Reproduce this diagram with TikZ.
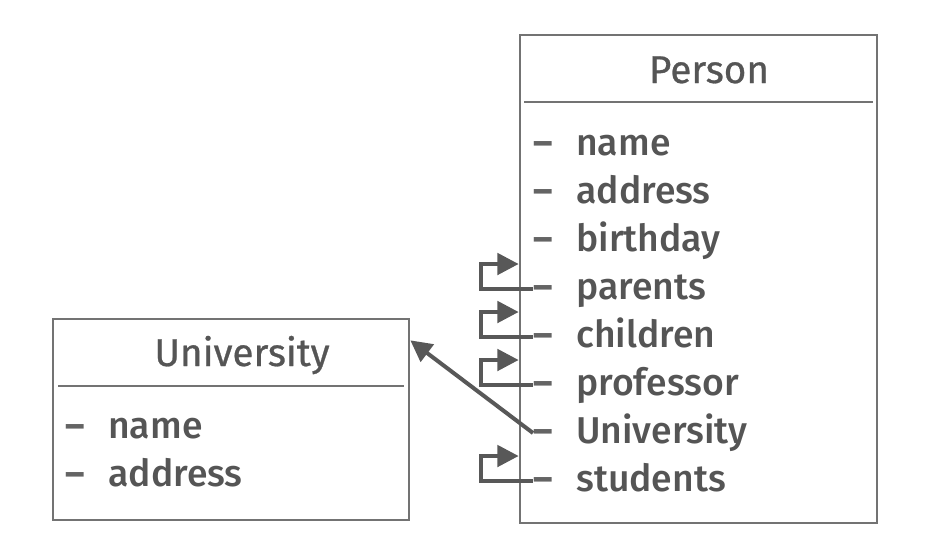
\documentclass[tikz,border=0pt]{standalone}
\usepackage{fontspec}
\setmainfont{Fira Sans}
\newfontfamily\itemfont{Fira Sans Medium}
\newfontfamily\titlefont[FakeBold=0.7]{Fira Sans}
\usetikzlibrary{arrows.meta}
\definecolor{txt}{RGB}{85,85,85}
\definecolor{dashc}{RGB}{100,100,100}
\definecolor{bord}{RGB}{115,115,115}
\definecolor{conn}{RGB}{88,88,88}
\tikzset{
  classbox/.style={draw=bord, line width=2pt, minimum width=#1, inner sep=0pt},
  title/.style={anchor=base, font=\titlefont\fontsize{29}{32}\selectfont, text=txt, inner sep=0pt},
  attr/.style={anchor=base west, font=\itemfont\fontsize{28}{32}\selectfont, text=txt, inner sep=0pt},
  dashmark/.style={anchor=base west, font=\bfseries\fontsize{28}{32}\selectfont, text=dashc, inner sep=0pt},
  sep/.style={draw=bord, line width=2.2pt},
  conn/.style={draw=conn, line width=3pt, -{Triangle[length=16pt,width=16pt]}},
}
\begin{document}
\begin{tikzpicture}[x=0.75pt,y=-0.75pt]
\useasboundingbox (0,0) rectangle (932,558);
% Person box
\node[classbox=267.75pt, minimum height=366pt] (P) at (698.5,279) {};
\node[title] (Pt) at (709,83) {Person};
\coordinate (Ps1) at (524,102);
\coordinate (Ps2) at (873,102);
\draw[sep] (Ps1) -- (Ps2);
\foreach \i/\t in {1/name,2/address,3/birthday,4/parents,5/children,6/professor,7/University,8/students}{
  \node[dashmark] (pd\i) at (533,{155+48*(\i-1)}) {–};
  \node[attr] (pa\i) at (576,{155+48*(\i-1)}) {\t};
}
% University box
\node[classbox=267pt, minimum height=150.75pt] (U) at (231,419.5) {};
\node[title] (Ut) at (242,366) {University};
\coordinate (Us1) at (58,386);
\coordinate (Us2) at (404,386);
\draw[sep] (Us1) -- (Us2);
\node[dashmark] (ud1) at (65,438) {–};
\node[attr] (ua1) at (108,438) {name};
\node[dashmark] (ud2) at (65,486) {–};
\node[attr] (ua2) at (108,486) {address};
% self associations
\foreach \i in {4,5,6,8}{
  \draw[conn] ([yshift=7.5pt]pd\i.base west) -- ++(-52,0) -- ++(0,-25) coordinate (lc\i) -- (lc\i -| P.west);
}
% association to University
\draw[conn] ([yshift=7.5pt]pd7.base west) -- ([yshift=-17pt]U.north east);
\end{tikzpicture}
\end{document}
